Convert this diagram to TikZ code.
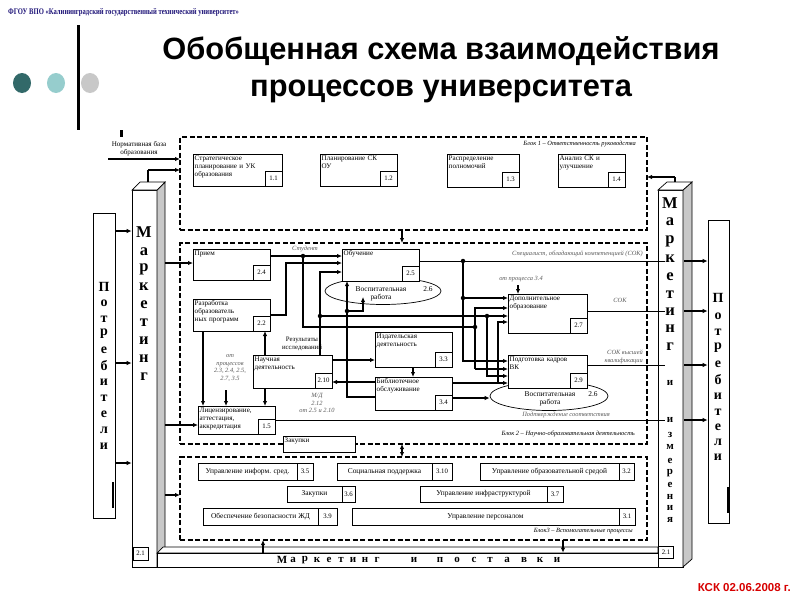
\documentclass[tikz,border=0pt]{standalone}
\usepackage{fontspec}
\setmainfont{Liberation Serif}
\newfontfamily\titlefont{Liberation Sans}
\usetikzlibrary{arrows.meta,shapes.geometric}
\definecolor{hdrblue}{RGB}{30,20,120}
\definecolor{dotA}{RGB}{50,105,105}
\definecolor{dotB}{RGB}{150,205,205}
\definecolor{dotC}{RGB}{200,200,200}
\definecolor{lblgray}{RGB}{90,90,90}
\definecolor{sidegray}{RGB}{200,200,200}
\definecolor{kskred}{RGB}{215,0,0}
\tikzset{
 pbox/.style={draw, line width=0.7pt, fill=white, inner sep=0, outer sep=0},
 ptext/.style={font=\fontsize{7.1}{8}\selectfont, inner sep=1.5pt, align=left},
 ptext3/.style={font=\fontsize{7.4}{8}\selectfont, inner sep=0},
 pnum/.style={draw, line width=0.7pt, fill=white, font=\fontsize{6.8}{7}\selectfont, minimum width=17, minimum height=15, inner sep=0, outer sep=0},
 blk/.style={draw, line width=2.2pt, dash pattern=on 5pt off 2.5pt, inner sep=0, outer sep=0},
 thinl/.style={line width=0.7pt},
 medl/.style={line width=1.1pt},
 thk/.style={line width=1.8pt},
 vthk/.style={line width=2.6pt},
 arr/.style={-{Latex[length=5pt,width=4.5pt]}},
 darr/.style={{Latex[length=5pt,width=4.5pt]}-{Latex[length=5pt,width=4.5pt]}},
 jdot/.style={circle, fill=black, inner sep=0, minimum size=4.5pt},
 lbl/.style={font=\fontsize{6.4}{7.5}\selectfont\itshape, text=lblgray, inner sep=0, align=center},
 blbl/.style={font=\fontsize{6.4}{7.5}\selectfont\itshape, inner sep=0},
 prl/.style={font=\fontsize{16.5}{18}\selectfont\bfseries, inner sep=0},
 prs/.style={font=\fontsize{11}{12}\selectfont\bfseries, inner sep=0},
 ptl/.style={font=\fontsize{14}{15}\selectfont\bfseries, inner sep=0},
 ell/.style={draw, ellipse, line width=0.7pt, inner sep=0},
}
\newcommand{\pbx}[8]{%
  \node[pbox, minimum width={#4-#2}, minimum height={#5-#3}] (#1) at ({(#2+#4)/2},{(#3+#5)/2}) {};
  \node[ptext, anchor=north west, text width=#8] (#1t) at (#1.north west) {#6};
  \node[pnum, anchor=south east] (#1n) at (#1.south east) {#7};
}
\newcommand{\sbx}[8]{%
  \node[pbox, minimum width={#4-#2}, minimum height={#5-#3}] (#1) at ({(#2+#4)/2},{(#3+#5)/2}) {};
  \node[pnum, anchor=north east, minimum width=#8, minimum height={#5-#3}] (#1n) at (#1.north east) {#7};
  \node[ptext3] (#1t) at ({(#2+#4-#8)/2},{(#3+#5)/2}) {#6};
}
\begin{document}
\begin{tikzpicture}[x=1pt,y=-1pt]
\useasboundingbox (0,0) rectangle (800,600);
\fill[white] (0,0) rectangle (800,600);

% header
\node[anchor=west, font=\fontsize{8.6}{10}\selectfont\bfseries, text=hdrblue, inner sep=0] (hdr) at (8,12) {\scalebox{0.77}[1]{ФГОУ ВПО «Калининградский государственный технический университет»}};
\draw[line width=3pt] (78,25) -- (78,130);
\fill[dotA] (22,83) ellipse (9 and 10);
\fill[dotB] (56,83) ellipse (9 and 10);
\fill[dotC] (90,83) ellipse (9 and 10);
\node[font=\titlefont\fontsize{30.8}{37}\selectfont\bfseries, align=center, inner sep=0] (title) at (441,70) {Обобщенная схема взаимодействия\\процессов университета};
\node[anchor=east, font=\titlefont\fontsize{11.5}{13}\selectfont\bfseries, text=kskred, inner sep=0] (ksk) at (791,588) {КСК 02.06.2008 г.};

% blocks
\node[blk, minimum width=467, minimum height=93] (blk1) at (413.5,183.5) {};
\node[blk, minimum width=467, minimum height=201] (blk2) at (413.5,343.5) {};
\node[blk, minimum width=467, minimum height=83] (blk3) at (413.5,498.5) {};
\node[blbl, anchor=east] (blk1l) at (636,144) {Блок 1 – Ответственность руководства};
\node[blbl, anchor=east] (blk2l) at (635,434) {Блок 2 – Научно-образовательная деятельность};
\node[blbl, anchor=east] (blk3l) at (633,531) {Блок3 – Вспомогательные процессы};

% prisms
\node[draw, fill=white, line width=0.7pt, minimum width=25, minimum height=377, inner sep=0] (mkL) at (144.5,378.5) {};
\filldraw[fill=sidegray, line width=0.7pt] (157,190) -- (165,182) -- (165,560) -- (157,567) -- cycle;
\filldraw[fill=white, line width=0.7pt] (132,190) -- (140,182) -- (165,182) -- (157,190) -- cycle;
\node[draw, fill=white, line width=0.7pt, minimum width=25, minimum height=377, inner sep=0] (mkR) at (670.5,378.5) {};
\filldraw[fill=sidegray, line width=0.7pt] (683,190) -- (692,182) -- (692,559) -- (683,567) -- cycle;
\filldraw[fill=white, line width=0.7pt] (658,190) -- (667,182) -- (692,182) -- (683,190) -- cycle;
% bottom slab
\filldraw[fill=white, line width=0.7pt] (157,553) -- (163,547) -- (658,547) -- (658,553) -- cycle;
\node[draw, fill=white, line width=0.7pt, minimum width=501, minimum height=14, inner sep=0] (slab) at (407.5,560) {};
\node[pnum, minimum width=15, minimum height=13] (n21L) at (140.5,553.5) {2.1};
\node[pnum, minimum width=15, minimum height=12] (n21R) at (666,552.5) {2.1};

\foreach \l/\yy [count=\i] in {М/232,а/252,р/269,к/287,е/305,т/323,и/341,н/359,г/377}
  \node[prl] (mkLl\i) at (144,\yy) {\l};
\foreach \l/\yy [count=\i] in {М/203,а/222,р/241,к/259,е/277,т/295,и/312,н/329,г/347}
  \node[prl] (mkRl\i) at (670,\yy) {\l};
\foreach \l/\yy [count=\i] in {и/383,и/420,з/435,м/447,е/461,р/473,е/485,н/497,и/508,я/520}
  \node[prs] (mkRs\i) at (670,\yy) {\l};
\foreach \l/\xx [count=\i] in {М/282,а/293,р/305,к/317,е/329,т/341,и/353,н/365,г/377,и/414,п/440,о/457,с/474,т/490,а/507,в/524,к/540,и/557}
  \node[prs] (slabl\i) at (\xx,560) {\l};

% consumers
\node[draw, line width=0.7pt, minimum width=22, minimum height=305, inner sep=0] (cL) at (104,365.5) {};
\node[draw, line width=0.7pt, minimum width=21, minimum height=303, inner sep=0] (cR) at (718.5,371.5) {};
\foreach \l/\yy [count=\i] in {П/287,о/303,т/319,р/334,е/350,б/366,и/382,т/398,е/414,л/430,и/446}
  \node[ptl] (cLl\i) at (104,\yy) {\l};
\foreach \l/\yy [count=\i] in {П/298,о/316,т/332,р/348,е/364,б/380,и/396,т/412,е/427,л/442,и/457}
  \node[ptl] (cRl\i) at (718,\yy) {\l};
\draw[line width=2pt] (113,482) -- (113,508);
\draw[line width=2pt] (728,487) -- (728,513);

% block 1 boxes
\pbx{b11}{193}{154}{282}{186}{Стратегическое\\планирование и УК\\образования}{1.1}{84pt}
\pbx{b12}{320}{154}{397}{186}{Планирование СК\\ОУ}{1.2}{74pt}
\pbx{b13}{447}{154}{519}{187}{Распределение\\полномочий}{1.3}{70pt}
\pbx{b14}{558}{154}{625}{187}{Анализ СК и\\улучшение}{1.4}{64pt}

% ellipses (behind boxes)
\node[ell, minimum width=116, minimum height=27] (e1) at (383,291) {};
\node[ptext3, align=center] (e1t) at (381,294) {Воспитательная\\работа};
\node[ptext3] (e1n) at (428,289) {2.6};
\node[ell, minimum width=118, minimum height=29] (e2) at (549,396) {};
\node[ptext3, align=center] (e2t) at (550,399) {Воспитательная\\работа};
\node[ptext3] (e2n) at (593,394) {2.6};

% block 2 boxes
\pbx{b24}{193}{249}{270}{280}{Прием}{2.4}{74pt}
\pbx{b22}{193}{299}{270}{331}{Разработка\\образователь\\ных программ}{2.2}{74pt}
\pbx{b25}{342}{249}{419}{281}{Обучение}{2.5}{74pt}
\pbx{b210}{253}{355}{332}{388}{Научная\\деятельность}{2.10}{74pt}
\pbx{b15}{198}{406}{275}{434}{Лицензирование,\\аттестация,\\аккредитация}{1.5}{74pt}
\pbx{b33}{375}{332}{452}{367}{Издательская\\деятельность}{3.3}{74pt}
\pbx{b34}{375}{377}{452}{410}{Библиотечное\\обслуживание}{3.4}{74pt}
\pbx{b27}{508}{294}{587}{333}{Дополнительное\\образование}{2.7}{76pt}
\pbx{b29}{508}{355}{587}{388}{Подготовка кадров\\ВК}{2.9}{76pt}

% block 3 boxes
\sbx{b35}{198}{463}{313}{480}{Управление информ. сред.}{3.5}{16}
\sbx{b310}{337}{463}{452}{480}{Социальная поддержка}{3.10}{20}
\sbx{b32}{480}{463}{634}{480}{Управление образовательной средой}{3.2}{15}
\sbx{b36}{287}{486}{355}{502}{Закупки}{3.6}{13}
\sbx{b37}{420}{486}{563}{502}{Управление инфраструктурой}{3.7}{16}
\sbx{b39}{203}{508}{337}{525}{Обеспечение безопасности ЖД}{3.9}{19}
\sbx{b31}{352}{508}{635}{525}{Управление персоналом}{3.1}{16}

% labels
\node[ptext, align=center] (norm) at (139,149) {Нормативная база\\образования};
\node[lbl] (lstud) at (305,249) {Студент};
\node[lbl, anchor=east] (lsok1) at (643,254) {Специалист, обладающий компетенцией (СОК)};
\node[lbl] (lot34) at (521,279) {от процесса 3.4};
\node[lbl] (lsok2) at (620,300) {СОК};
\node[lbl, anchor=east, align=right] (lsok3) at (643,357) {СОК высшей\\квалификации};
\node[lbl] (lpodt) at (566,415) {Подтверждение соответствия};
\node[ptext3, align=center, font=\fontsize{6.8}{7.8}\selectfont] (lres) at (302,344) {Результаты\\исследований};
\node[lbl] (lotpr) at (230,368) {от\\процессов\\2.3, 2.4, 2.5,\\2.7, 3.5};
\node[lbl] (lmd) at (317,403) {М/Д\\2.12\\от 2.5 и 2.10};

% connectors outside
\draw[line width=3pt] (121,130) -- (121,137);
\draw[thk, arr] (108,159) -- (blk1.west |- 0,159);
\draw[medl] (148,182) -- (148,170);
\draw[thk, arr] (148,170) -- (blk1.west |- 0,170);
\draw[medl] (675,182) -- (675,177);
\draw[thk, arr] (675,177) -- (blk1.east |- 0,177);
\draw[thk, arr] (blk1.south -| 402,0) -- (blk2.north -| 402,0);
\draw[thk, darr] (blk2.south -| 402,0) -- (blk3.north -| 402,0);
\draw[thk, arr] (blk3.south -| 563,0) -- (slab.north -| 563,0);
\draw[thk, arr] (slab.north -| 263,0) -- (blk3.south -| 263,0);
\foreach \yy in {231,363,463} \draw[thk, arr] (cL.east |- 0,\yy) -- (mkL.west |- 0,\yy);
\foreach \yy in {261,311,365,420} \draw[thk, arr] (684,\yy) -- (cR.west |- 0,\yy);
\draw[thk, arr] (165,263) -- (b24.west |- 0,263);
\draw[thk, arr] (165,425) -- (b15.west |- 0,425);
\draw[thk, arr] (165,495) -- (blk3.west |- 0,495);

% outputs to right prism
\draw[thinl] (b25.east |- 0,261) -- (665,261);
\draw[thinl] (b27.east |- 0,311) -- (665,311);
\draw[thinl] (b29.east |- 0,365) -- (665,365);
\draw[thinl] (b15.east |- 0,420) -- (665,420);

% block 2 connectors
\draw[thk, arr] (b24.east |- 0,256) -- (b25.west |- 0,256);
\node[jdot] (d1) at (303,256) {};
\draw[vthk] (d1.center) -- (303,327) -- (475,327);
\node[jdot] (d2) at (475,327) {};
\draw[medl, arr] (b22.east |- 0,315) -- (286,315) -- (286,263) -- (b25.west |- 0,263);
\draw[medl, arr] (b210.north -| 320,0) -- (320,272) -- (b25.west |- 0,272);
\node[jdot] (d3) at (320,316) {};
\draw[vthk, arr] (d3.center) -- (b27.west |- 0,316);
\node[jdot] (d4) at (487,316) {};
\draw[thk, arr] (b210.north -| 265,0) -- (b22.south -| 265,0);
\draw[thk, arr] (b22.south -| 203,0) -- (b15.north -| 203,0);
\draw[thk, arr] (226,390) -- (b15.north -| 226,0);
\draw[thk, arr] (b210.south -| 265,0) -- (b15.north -| 265,0);
\draw[thk, arr] (b210.east |- 0,360) -- (b33.west |- 0,360);
\draw[thk, arr] (b34.west |- 0,382) -- (b210.east |- 0,382);
\draw[thk, arr] (b33.south -| 413,0) -- (b34.north -| 413,0);
\draw[medl, arr] (b34.west |- 0,397) -- (347,397) -- (b25.south -| 347,0);
\node[jdot] (d5) at (347,311) {};
\draw[thk, arr] (d5.center) -- (363,311) -- (363,297);
\draw[vthk, arr] (b34.east |- 0,383) -- (b29.west |- 0,383);
\draw[vthk, arr] (b34.east |- 0,398) -- (e2.west |- 0,398);
% right bus
\node[jdot] (d6) at (463,261) {};
\draw[thk, arr] (d6.center) -- (463,361) -- (b29.west |- 0,361);
\node[jdot] (d7) at (463,298) {};
\draw[thk, arr] (d7.center) -- (b27.west |- 0,298);
\draw[thk, arr] (475,369) -- (475,308) -- (b27.west |- 0,308);
\draw[thk, arr] (475,369) -- (b29.west |- 0,369);
\draw[thk, arr] (d4.center) -- (487,376) -- (b29.west |- 0,376);
\draw[thk, arr] (498,383) -- (498,322) -- (b27.west |- 0,322);
\draw[thk, arr] (518,285) -- (b27.north -| 518,0);

% purchases box on border
\node[pbox, minimum width=72, minimum height=16] (zak) at (319,444) {};
\node[ptext, anchor=north west] (zakt) at (zak.north west) {Закупки};
\end{tikzpicture}
\end{document}
